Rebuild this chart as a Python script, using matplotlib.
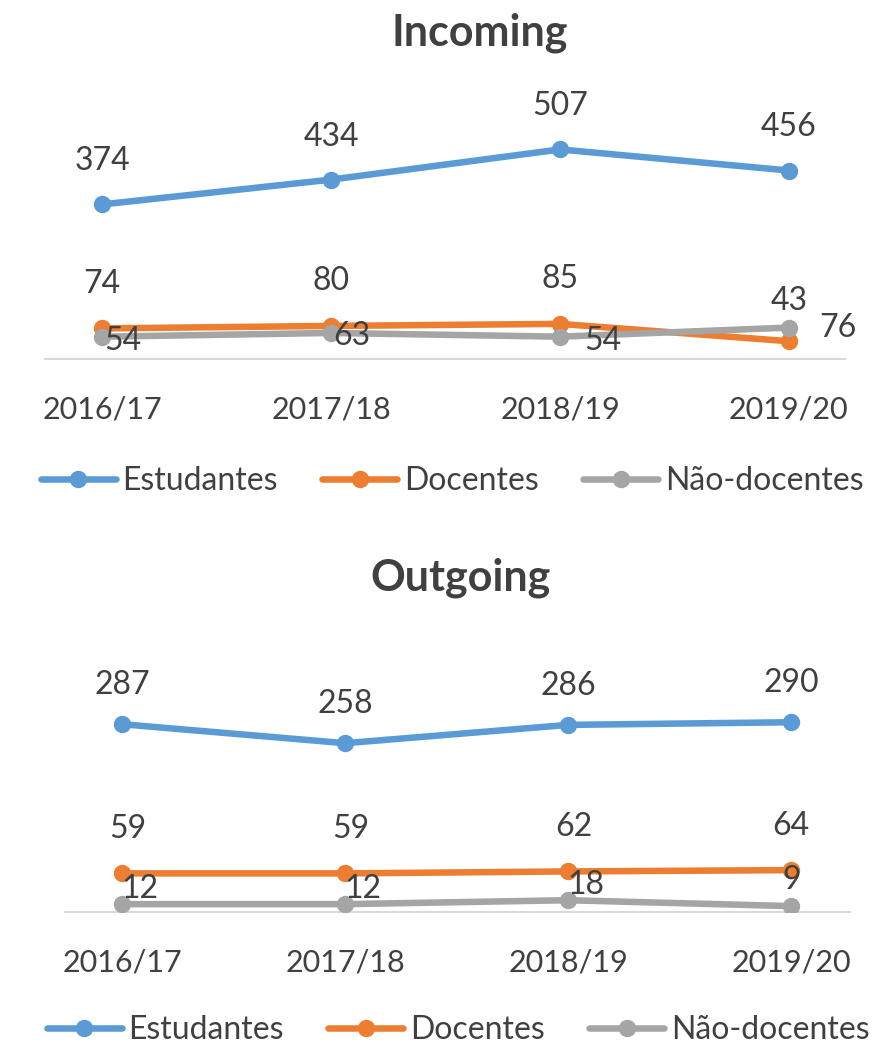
import matplotlib
matplotlib.use("Agg")
import matplotlib.pyplot as plt
from matplotlib.lines import Line2D

years = ["2016/17", "2017/18", "2018/19", "2019/20"]

inc_estudantes = [374, 434, 507, 456]
inc_docentes = [74, 80, 85, 43]
inc_nao_docentes = [54, 63, 54, 76]

out_estudantes = [287, 258, 286, 290]
out_docentes = [59, 59, 62, 64]
out_nao_docentes = [12, 12, 18, 9]

series_names = ["Estudantes", "Docentes", "Não-docentes"]
colors = ["#5B9BD5", "#ED7D31", "#A5A5A5"]
txt = "#404040"

plt.rcParams["font.family"] = ["Lato", "DejaVu Sans"]

W, H = 883, 1046
fig = plt.figure(figsize=(W / 100, H / 100), dpi=100)


def px_axes(left, top_zero, width, height):
    # left/width in px, top_zero = pixel row (from top) of the zero line
    return fig.add_axes([left / W, (H - top_zero) / H, width / W, height / H])


def draw_panel(ax, data, xlim, ylim, label_offsets):
    x = range(len(years))
    for vals, c in zip(data, colors):
        ax.plot(x, vals, color=c, lw=4.7, marker="o", ms=11.5, solid_capstyle="round", zorder=3)
    for vals, offs in zip(data, label_offsets):
        for i, v in enumerate(vals):
            dx, dy = offs[i]
            ax.annotate(str(v), (i, v), xytext=(dx, dy), textcoords="offset points",
                        ha="center", va="center", fontsize=23, color=txt, zorder=4)
    ax.set_xlim(*xlim)
    ax.set_ylim(*ylim)
    ax.set_xticks(list(x))
    ax.set_xticklabels(years, fontsize=22, color=txt)
    ax.tick_params(axis="x", length=0, pad=26)
    ax.set_yticks([])
    for s in ["top", "right", "left"]:
        ax.spines[s].set_visible(False)
    ax.spines["bottom"].set_color("#D9D9D9")
    ax.spines["bottom"].set_linewidth(1.5)
    ax.patch.set_alpha(0)


def legend_handles():
    return [Line2D([0], [0], color=c, lw=4.7, marker="o", ms=11.5, solid_capstyle="round")
            for c in colors]


# Incoming
ax1 = px_axes(45, 359, 800, 248)
inc_offsets = [
    [(0, 31)] * 4,
    [(0, 32), (0, 32), (0, 32), (0, 29)],
    [(15, -3), (15, -2), (31, -3), (35, 0)],
]
draw_panel(ax1, [inc_estudantes, inc_docentes, inc_nao_docentes],
           (-0.25, 3.245), (0, 600), inc_offsets)
fig.text(480 / W, 1 - 33 / H, "Incoming", ha="center", va="center",
         fontsize=31, fontweight="bold", color=txt)
fig.legend(legend_handles(), series_names, loc="center", bbox_to_anchor=(452 / W, 1 - 481 / H),
           ncol=3, frameon=False, fontsize=23, labelcolor=txt, handlelength=2.35,
           handletextpad=0.2, columnspacing=1.4)

# Outgoing
ax2 = px_axes(65, 912, 785, 229)
out_offsets = [
    [(0, 28)] * 4,
    [(4, 32), (4, 32), (4, 32), (0, 32)],
    [(13, 11), (13, 11), (13, 11), (0, 19)],
]
draw_panel(ax2, [out_estudantes, out_docentes, out_nao_docentes],
           (-0.256, 3.264), (0, 350), out_offsets)
fig.text(460 / W, 1 - 578 / H, "Outgoing", ha="center", va="center",
         fontsize=31, fontweight="bold", color=txt)
fig.legend(legend_handles(), series_names, loc="center", bbox_to_anchor=(458 / W, 1 - 1030 / H),
           ncol=3, frameon=False, fontsize=23, labelcolor=txt, handlelength=2.35,
           handletextpad=0.2, columnspacing=1.4)

fig.savefig("out.png", dpi=100, facecolor="white")
